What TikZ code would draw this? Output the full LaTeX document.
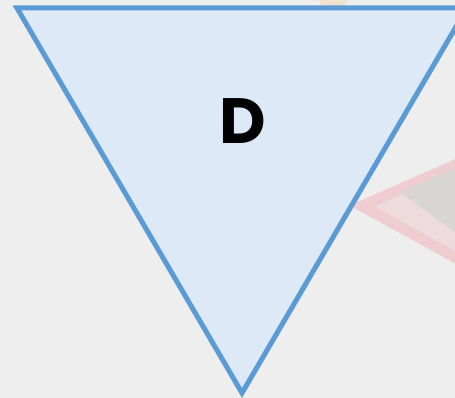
\documentclass[tikz,border=0pt]{standalone}
\usepackage{fontspec}
\newfontfamily\labelfont{Poppins}[UprightFont=* Bold]
\definecolor{bgc}{HTML}{EEEEEE}
\definecolor{trifill}{HTML}{DDE9F6}
\definecolor{tridraw}{HTML}{5B9BD5}
\definecolor{ghostred}{HTML}{EECCD0}
\definecolor{ghostgrey}{HTML}{D9D5D5}
\definecolor{ghostorange}{HTML}{F0E0CE}
\tikzset{
  tri/.style={fill=trifill, draw=tridraw, line width=5pt, line join=miter},
  lbl/.style={font=\labelfont\fontsize{64}{64}\selectfont, text=black, inner sep=0pt}
}
\begin{document}
\begin{tikzpicture}[x=1pt,y=1pt]
  \fill[bgc] (0,0) rectangle (455,398);
  \useasboundingbox (0,0) rectangle (455,398);
  \clip (0,0) rectangle (455,398);
  % faded shapes behind
  \fill[ghostorange] (318,398) -- (348,398) -- (341,389) -- (325,389) -- cycle;
  \draw[ghostred, fill=ghostred!55!bgc, line width=11pt] (362,192) -- (560,279) -- (560,83) -- cycle;
  \fill[ghostgrey] (400,206) -- (560,276) -- (560,88) -- cycle;
  % main triangle
  \draw[tri] (17,390) -- (467,390) -- (242,5) -- cycle;
  \node[lbl] (d) at (243,277) {D};
\end{tikzpicture}
\end{document}
